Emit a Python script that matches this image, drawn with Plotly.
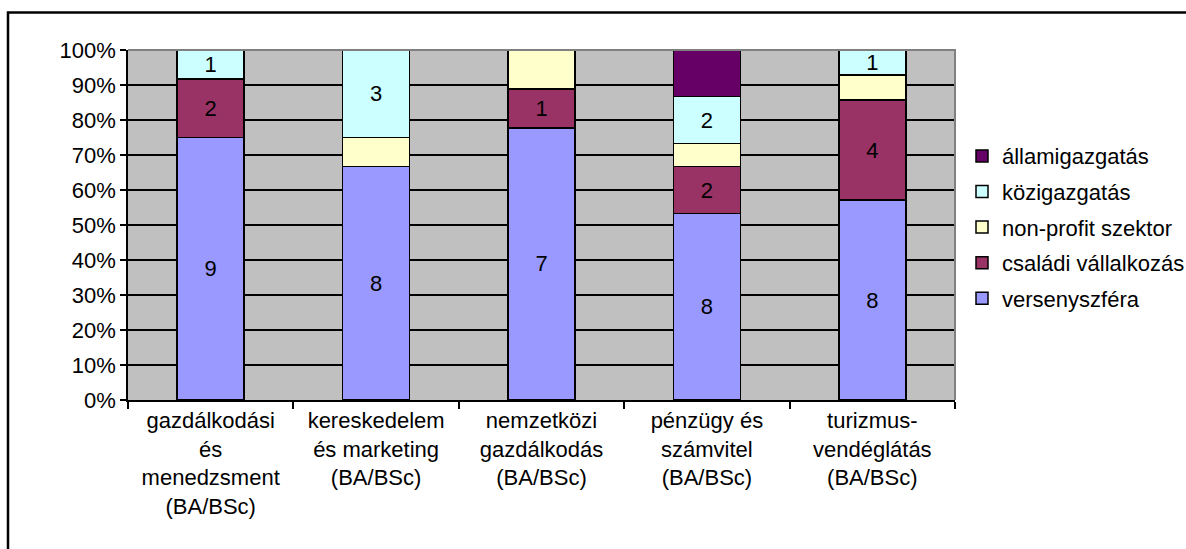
import plotly.graph_objects as go

categories = [
    "gazdálkodási<br>és<br>menedzsment<br>(BA/BSc)",
    "kereskedelem<br>és marketing<br>(BA/BSc)",
    "nemzetközi<br>gazdálkodás<br>(BA/BSc)",
    "pénzügy és<br>számvitel<br>(BA/BSc)",
    "turizmus-<br>vendéglátás<br>(BA/BSc)",
]

series_names = ["versenyszféra", "családi vállalkozás", "non-profit szektor",
                "közigazgatás", "államigazgatás"]
versenyszfera = [9, 8, 7, 8, 8]
csaladi = [2, 0, 1, 2, 4]
nonprofit = [0, 1, 1, 1, 1]
kozigazgatas = [1, 3, 0, 2, 1]
allamigazgatas = [0, 0, 0, 2, 0]

# labels shown in the reference (empty = not displayed)
versenyszfera_lbl = ["9", "8", "7", "8", "8"]
csaladi_lbl = ["2", "", "1", "2", "4"]
nonprofit_lbl = ["", "", "", "", ""]
kozigazgatas_lbl = ["1", "3", "", "2", "1"]
allamigazgatas_lbl = ["", "", "", "", ""]

values = [versenyszfera, csaladi, nonprofit, kozigazgatas, allamigazgatas]
labels = [versenyszfera_lbl, csaladi_lbl, nonprofit_lbl, kozigazgatas_lbl, allamigazgatas_lbl]
colors = ["#9999FF", "#993366", "#FFFFCC", "#CCFFFF", "#660066"]

FONT = "Liberation Sans, Arial, sans-serif"
FS = 22

fig = go.Figure()
for i, (name, vals, lbl, col) in enumerate(zip(series_names, values, labels, colors)):
    fig.add_trace(go.Bar(
        x=categories, y=vals, name=name, legendgroup=name, legendrank=100 - i,
        marker=dict(color=col, line=dict(color="black", width=1.5)),
        text=lbl, texttemplate="%{text}", textposition="inside",
        insidetextanchor="middle", textangle=0, constraintext="none",
        textfont=dict(family=FONT, size=FS, color="black"),
    ))

L, R, T, B = 128, 955, 50, 400
W, H = 1186, 549

def px(xp):
    return (xp - L) / (R - L)

def py(yp):
    return (B - yp) / (B - T)

fig.update_layout(
    width=W, height=H,
    barmode="stack", barnorm="percent", bargap=0.595,
    paper_bgcolor="white", plot_bgcolor="#C0C0C0",
    margin=dict(l=L, r=W - R, t=T, b=H - B, pad=0, autoexpand=False),
    font=dict(family=FONT, size=FS, color="black"),
    showlegend=True,
    legend=dict(
        x=px(962), xanchor="left", y=0.494, yanchor="middle",
        traceorder="grouped", tracegroupgap=4,
        font=dict(family=FONT, size=FS, color="black"),
        bgcolor="rgba(0,0,0,0)",
    ),
    xaxis=dict(
        showline=True, linecolor="black", linewidth=1.5,
        ticks="outside", tickson="boundaries", ticklen=7, tickcolor="black", tickwidth=1.5,
        showgrid=False, tickfont=dict(family=FONT, size=FS, color="black"),
        tickangle=0, automargin=False,
    ),
    yaxis=dict(
        range=[0, 100], dtick=10, ticksuffix="%",
        showline=True, linecolor="black", linewidth=1.5,
        ticks="outside", ticklen=6, tickcolor="black", tickwidth=1.5,
        showgrid=True, gridcolor="black", gridwidth=1.5,
        zeroline=False, tickfont=dict(family=FONT, size=FS, color="black"),
        automargin=False,
    ),
    shapes=[
        # gray top and right edges of the plot area
        dict(type="path", xref="paper", yref="paper",
             path="M 0,1 L 1,1 L 1,0", line=dict(color="#808080", width=2), layer="above"),
        # outer chart frame (only top and left edges visible)
        dict(type="rect", xref="paper", yref="paper",
             x0=px(8), x1=px(1200), y0=py(570), y1=py(12.5),
             line=dict(color="black", width=2.5), layer="below"),
    ],
)

fig.write_html("out.html", config={"displayModeBar": False},
               post_script="document.body.style.margin='0';")
